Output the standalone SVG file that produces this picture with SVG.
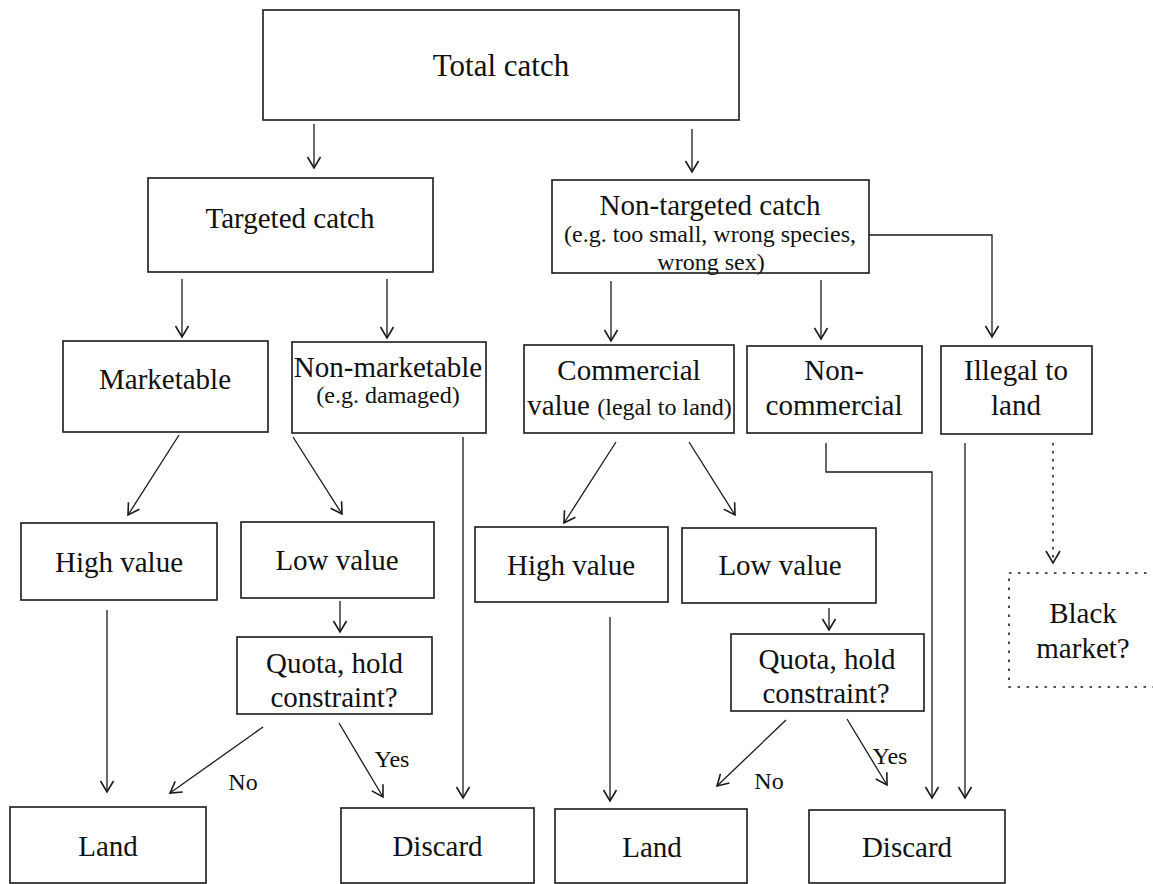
<svg xmlns="http://www.w3.org/2000/svg" width="1153" height="884" viewBox="0 0 1153 884">
<defs>
<style>
.box{fill:#fff;stroke:#1a1a1a;stroke-width:1.6}
.dot{fill:none;stroke:#1a1a1a;stroke-width:1.6;stroke-dasharray:2.5 6.5}
.t{font-family:"Liberation Serif","Times New Roman",serif;font-size:29px;fill:#111;text-anchor:middle}
.s{font-size:24px}
.c{fill:none;stroke:#1a1a1a;stroke-width:1.3}
.cd{fill:none;stroke:#1a1a1a;stroke-width:1.6;stroke-dasharray:2.5 5.5}
</style>
<marker id="ah" markerUnits="userSpaceOnUse" markerWidth="20" markerHeight="20" viewBox="-14 -10 16 20" refX="0" refY="0" orient="auto">
<path d="M-11,-6.5 L0,0 L-11,6.5" fill="none" stroke="#1a1a1a" stroke-width="1.6"/>
</marker>
</defs>
<rect width="1153" height="884" fill="#fff"/>
<g id="connectors">
<path class="c" d="M314,124 V168" marker-end="url(#ah)"/>
<path class="c" d="M692,129 V172" marker-end="url(#ah)"/>
<path class="c" d="M182,279 V337" marker-end="url(#ah)"/>
<path class="c" d="M387,279 V338" marker-end="url(#ah)"/>
<path class="c" d="M611,281 V341" marker-end="url(#ah)"/>
<path class="c" d="M821,280 V339" marker-end="url(#ah)"/>
<path class="c" d="M869,235 H992 V337" marker-end="url(#ah)"/>
<path class="c" d="M179,435 L128,515" marker-end="url(#ah)"/>
<path class="c" d="M293,437 L342,514" marker-end="url(#ah)"/>
<path class="c" d="M463,437 V798" marker-end="url(#ah)"/>
<path class="c" d="M616,442 L564,523" marker-end="url(#ah)"/>
<path class="c" d="M689,442 L735,515" marker-end="url(#ah)"/>
<path class="c" d="M826,443 V472 H932 V798" marker-end="url(#ah)"/>
<path class="c" d="M965,443 V798" marker-end="url(#ah)"/>
<path class="cd" d="M1053,443 V561"/>
<path d="M1046,551 L1053,563 L1060,551" fill="none" stroke="#1a1a1a" stroke-width="1.6"/>
<path class="c" d="M107,610 V792" marker-end="url(#ah)"/>
<path class="c" d="M340,601 V632" marker-end="url(#ah)"/>
<path class="c" d="M263,727 L170,793" marker-end="url(#ah)"/>
<path class="c" d="M339,723 L383,797" marker-end="url(#ah)"/>
<path class="c" d="M610,617 V801" marker-end="url(#ah)"/>
<path class="c" d="M829,608 V630" marker-end="url(#ah)"/>
<path class="c" d="M786,720 L717,786" marker-end="url(#ah)"/>
<path class="c" d="M847,719 L887,785" marker-end="url(#ah)"/>
</g>
<g id="total"><rect class="box" x="263" y="10" width="476" height="110"/><text class="t" x="501" y="76" style="font-size:31px">Total catch</text></g>
<g id="targeted"><rect class="box" x="148" y="178" width="285" height="94"/><text class="t" x="290" y="228">Targeted catch</text></g>
<g id="nontargeted"><rect class="box" x="552" y="180" width="317" height="93"/><text class="t" x="710" y="215">Non-targeted catch</text><text class="t s" x="710" y="242">(e.g. too small, wrong species,</text><text class="t s" x="711" y="270">wrong sex)</text></g>
<g id="marketable"><rect class="box" x="63" y="341" width="205" height="91"/><text class="t" x="165" y="389">Marketable</text></g>
<g id="nonmarketable"><rect class="box" x="292" y="342" width="194" height="91"/><text class="t" x="388" y="377">Non-marketable</text><text class="t s" x="388" y="403">(e.g. damaged)</text></g>
<g id="commercial"><rect class="box" x="524" y="345" width="210" height="88"/><text class="t" x="629" y="380">Commercial</text><text class="t" x="629.5" y="415">value <tspan class="s">(legal to land)</tspan></text></g>
<g id="noncommercial"><rect class="box" x="747" y="346" width="175" height="87"/><text class="t" x="834" y="380">Non-</text><text class="t" x="834" y="415">commercial</text></g>
<g id="illegal"><rect class="box" x="941" y="346" width="151" height="88"/><text class="t" x="1016" y="380">Illegal to</text><text class="t" x="1016" y="415">land</text></g>
<g id="highvalue1"><rect class="box" x="21" y="523" width="196" height="77"/><text class="t" x="119" y="572">High value</text></g>
<g id="lowvalue1"><rect class="box" x="241" y="522" width="193" height="76"/><text class="t" x="337" y="570">Low value</text></g>
<g id="highvalue2"><rect class="box" x="475" y="527" width="193" height="75"/><text class="t" x="571" y="575">High value</text></g>
<g id="lowvalue2"><rect class="box" x="682" y="528" width="194" height="75"/><text class="t" x="780" y="575">Low value</text></g>
<g id="quota1"><rect class="box" x="237" y="637" width="195" height="77"/><text class="t" x="334.5" y="673">Quota, hold</text><text class="t" x="334" y="707">constraint?</text></g>
<g id="quota2"><rect class="box" x="731" y="634" width="193" height="77"/><text class="t" x="827" y="669">Quota, hold</text><text class="t" x="826" y="703">constraint?</text></g>
<g id="blackmarket"><rect class="dot" x="1009" y="573" width="160" height="114"/><text class="t" x="1083" y="623">Black</text><text class="t" x="1083" y="658">market?</text></g>
<g id="land1"><rect class="box" x="10" y="807" width="196" height="76"/><text class="t" x="108" y="856">Land</text></g>
<g id="discard1"><rect class="box" x="341" y="808" width="193" height="75"/><text class="t" x="437.5" y="856">Discard</text></g>
<g id="land2"><rect class="box" x="555" y="809" width="192" height="74"/><text class="t" x="652" y="857">Land</text></g>
<g id="discard2"><rect class="box" x="809" y="810" width="196" height="73"/><text class="t" x="907" y="857">Discard</text></g>
<g id="labels"><text class="t s" x="243" y="790">No</text><text class="t s" x="392" y="767">Yes</text><text class="t s" x="769" y="789">No</text><text class="t s" x="890" y="764">Yes</text></g>
</svg>
